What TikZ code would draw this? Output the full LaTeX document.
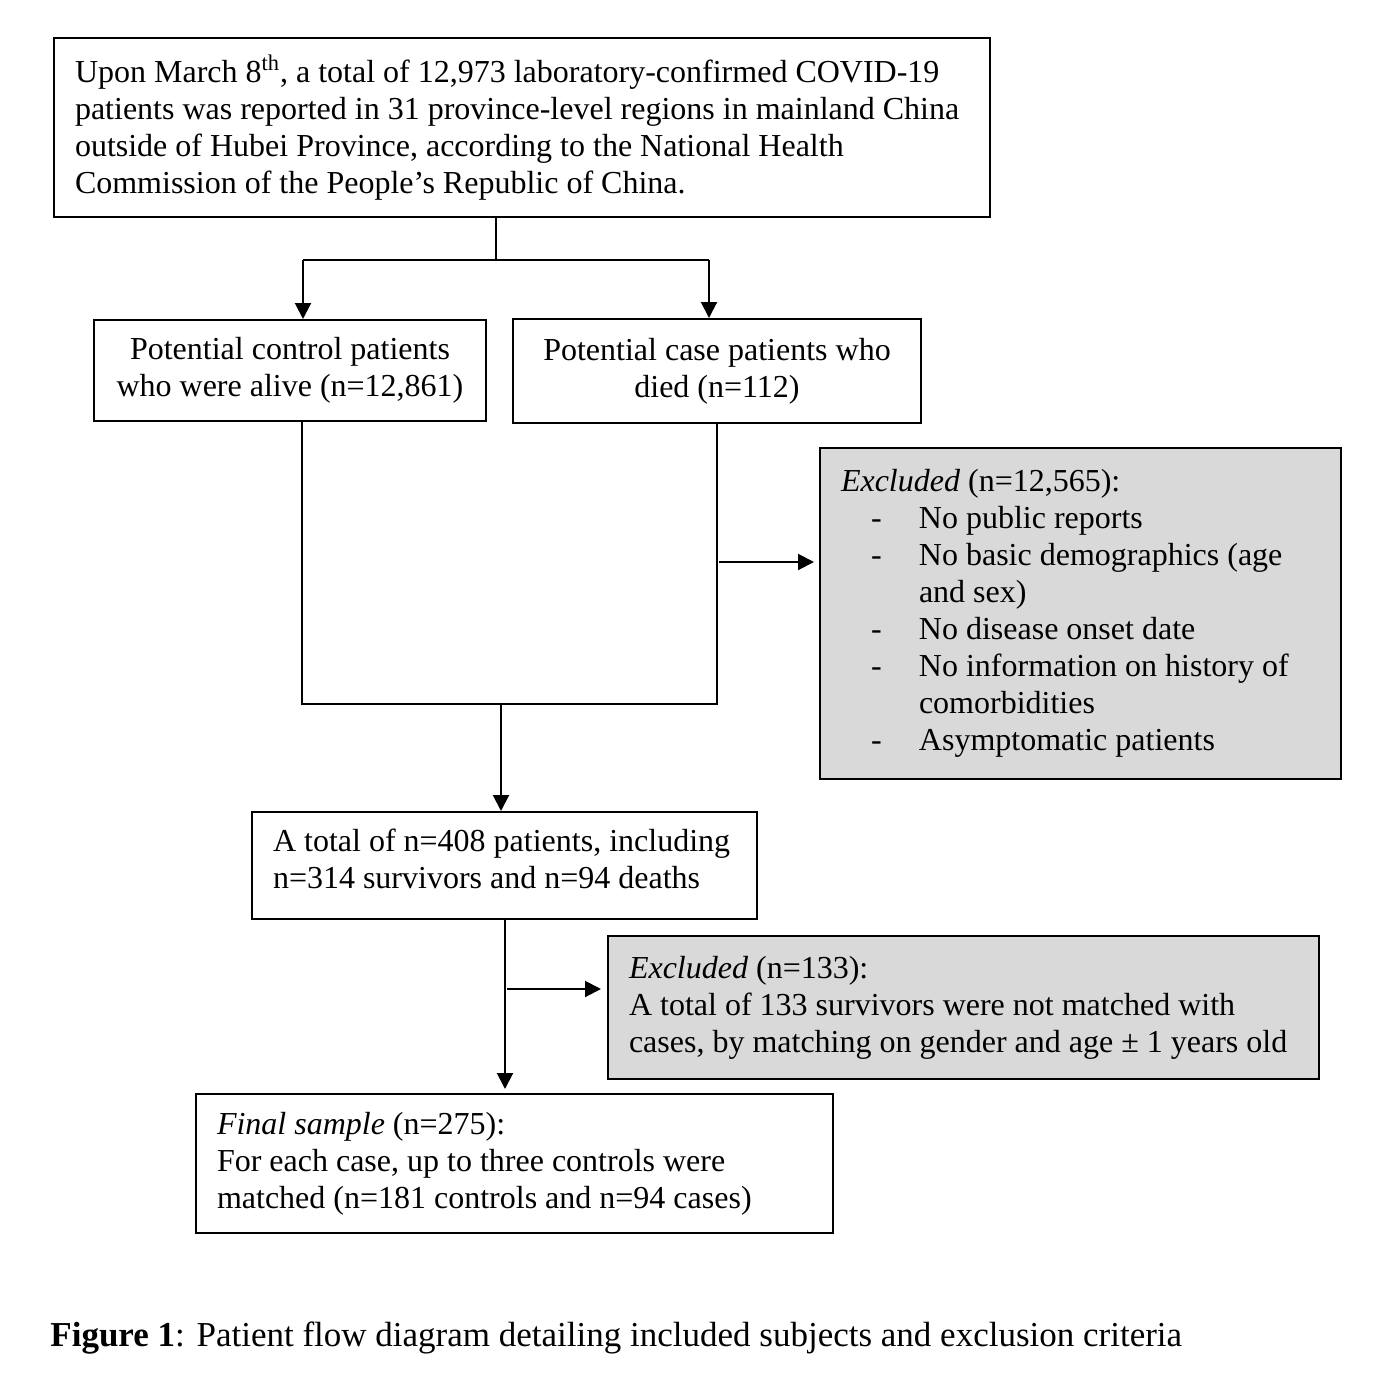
\documentclass[tikz,border=0pt]{standalone}
\usepackage{fontspec}
\setmainfont{Liberation Serif}
\usetikzlibrary{arrows.meta}
\definecolor{exgray}{HTML}{D9D9D9}
\newcommand{\oneline}[1]{{\spaceskip=0pt\xspaceskip=0pt\relax\mbox{#1}}}
\newcommand{\itm}{\makebox[39pt][l]{\hspace{15pt}-}}
\newcommand{\cnt}{\hspace*{39pt}}
\begin{document}
\begin{tikzpicture}[x=0.5pt,y=-0.5pt,
  box/.style={draw, line width=1pt, anchor=north west, inner xsep=10.5pt, inner ysep=0pt,
    font=\fontsize{16}{18.5}\selectfont, align=left},
  cbox/.style={box, align=center},
  grey/.style={fill=exgray},
  arr/.style={line width=1pt, -{Triangle[length=8pt,width=8pt]}},
  conn/.style={line width=1pt}]
\useasboundingbox (0,0) rectangle (1392,1386);
\fill[white] (0,0) rectangle (1392,1386);

% boxes
\node[box, minimum width=468pt, minimum height=89.5pt, text width=447pt] (top) at (53,37)
 {\oneline{Upon March 8\textsuperscript{th}, a total of 12,973 laboratory-confirmed COVID-19}\\
  \oneline{patients was reported in 31 province-level regions in mainland China}\\
  \oneline{outside of Hubei Province, according to the National Health}\\
  \oneline{Commission of the People’s Republic of China.}};

\node[cbox, minimum width=196pt, minimum height=50.5pt] (ctrl) at (93,319)
 {Potential control patients\\ who were alive (n=12,861)};

\node[cbox, minimum width=204pt, minimum height=52pt] (case) at (512,318)
 {Potential case patients who\\ died (n=112)};

\node[box, grey, minimum width=260.5pt, minimum height=165.5pt, text width=239.5pt] (excl1) at (819,447)
 {\oneline{\textit{Excluded} (n=12,565):}\\
  \itm\oneline{No public reports}\\
  \itm\oneline{No basic demographics (age}\\
  \cnt\oneline{and sex)}\\
  \itm\oneline{No disease onset date}\\
  \itm\oneline{No information on history of}\\
  \cnt\oneline{comorbidities}\\
  \itm\oneline{Asymptomatic patients}};

\node[box, minimum width=252.5pt, minimum height=53.5pt, text width=231.5pt] (total) at (251,811)
 {\oneline{A total of n=408 patients, including}\\ \oneline{n=314 survivors and n=94 deaths}\\[-11.5pt]\mbox{}};

\node[box, grey, minimum width=355.5pt, minimum height=71.5pt, text width=334.5pt] (excl2) at (607,935)
 {\oneline{\textit{Excluded} (n=133):}\\
  \oneline{A total of 133 survivors were not matched with}\\
  \oneline{cases, by matching on gender and age ± 1 years old}};

\node[box, minimum width=318.5pt, minimum height=69.5pt, text width=297.5pt] (final) at (195,1093)
 {\oneline{\textit{Final sample} (n=275):}\\
  \oneline{For each case, up to three controls were}\\
  \oneline{matched (n=181 controls and n=94 cases)}};

\node[anchor=base west, inner sep=0pt, font=\fontsize{17.5}{20}\selectfont] (cap) at (50,1346)
 {\textbf{Figure 1}: Patient flow diagram detailing included subjects and exclusion criteria};

% connectors
\coordinate (j1) at (496,260);
\coordinate (cl) at (303,260);
\coordinate (cr) at (709,260);
\draw[conn] (top.south -| j1) -- (j1);
\draw[conn] (cl) -- (cr);
\draw[arr] (cl) -- (ctrl.north -| cl);
\draw[arr] (cr) -- (case.north -| cr);

\coordinate (dl) at (302,704);
\coordinate (dr) at (717,704);
\coordinate (j2) at (501,704);
\draw[conn] (ctrl.south -| dl) -- (dl) -- (dr) -- (case.south -| dr);
\draw[arr] (j2) -- (total.north -| j2);
\coordinate (s1) at (719,562);
\draw[arr, shorten >=2.5pt] (s1) -- (s1 -| excl1.west);

\coordinate (j3) at (505,918);
\draw[arr] (total.south -| j3) -- ([yshift=2pt]final.north -| j3);
\coordinate (s2) at (507,989);
\draw[arr, shorten >=3pt] (s2) -- (s2 -| excl2.west);
\end{tikzpicture}
\end{document}
